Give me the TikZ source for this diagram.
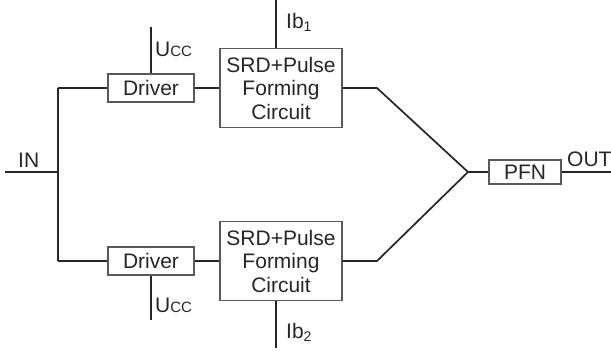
\documentclass[tikz,border=0pt]{standalone}
\usepackage{fontspec}
\setmainfont{Liberation Sans}
\begin{document}
\begin{tikzpicture}[x=1pt,y=-1pt,
  wire/.style={line width=1.7pt,draw=black!85},
  blk/.style={draw=black!65,line width=1.1pt,fill=white,inner sep=0pt,text=black!85,
    font=\fontsize{21}{23.5}\selectfont,align=center},
  lbl/.style={anchor=base west,inner sep=0pt,text=black!85,font=\fontsize{21}{23.5}\selectfont}]
\useasboundingbox (0,0) rectangle (611,351);
% blocks
\node[blk,minimum width=86pt,minimum height=28pt] (drv1) at (151,88) {Driver};
\node[blk,minimum width=86pt,minimum height=28pt] (drv2) at (151,261) {Driver};
\node[blk,minimum width=122pt,minimum height=79pt] (srd1) at (281,88) {SRD+Pulse\\Forming\\Circuit};
\node[blk,minimum width=122pt,minimum height=79pt] (srd2) at (281,261) {SRD+Pulse\\Forming\\Circuit};
\node[blk,minimum width=72pt,minimum height=24pt] (pfn) at (525,172) {PFN};
% coordinates
\coordinate (inL) at (5,172);
\coordinate (jM) at (58,172);
\coordinate (jT) at (58,88);
\coordinate (jB) at (58,261);
\coordinate (u1) at (151,27);
\coordinate (u2) at (151,320);
\coordinate (ib1) at (276,0);
\coordinate (ib2) at (276,348);
\coordinate (e1) at (377,88);
\coordinate (e2) at (377,261);
\coordinate (J) at (468,172);
\coordinate (outR) at (611,172);
% wires
\draw[wire] (inL) -- (jM);
\draw[wire] (jT) -- (jB);
\draw[wire] (jT) -- (drv1.west);
\draw[wire] (jB) -- (drv2.west);
\draw[wire] (drv1.east) -- (srd1.west);
\draw[wire] (drv2.east) -- (srd2.west);
\draw[wire] (u1) -- (drv1.north);
\draw[wire] (u2) -- (drv2.south);
\draw[wire] (ib1) -- (ib1 |- srd1.north);
\draw[wire] (ib2) -- (ib2 |- srd2.south);
\draw[wire,line join=miter] (srd1.east) -- (e1) -- (J) -- (e2) -- (srd2.east);
\draw[wire] (J) -- (pfn.west);
\draw[wire] (pfn.east) -- (outR);
% labels
\node[lbl] (inlbl) at (18,167) {IN};
\node[lbl] (outlbl) at (567,166) {OUT};
\node[lbl] (ucc1) at (155,56) {U{\fontsize{15}{15}\selectfont CC}};
\node[lbl] (ucc2) at (155,312) {U{\fontsize{15}{15}\selectfont CC}};
\node[lbl] (ib1l) at (286,28) {Ib\raisebox{-3.5pt}{\fontsize{14}{14}\selectfont 1}};
\node[lbl] (ib2l) at (286,338) {Ib\raisebox{-3.5pt}{\fontsize{14}{14}\selectfont 2}};
\end{tikzpicture}
\end{document}
